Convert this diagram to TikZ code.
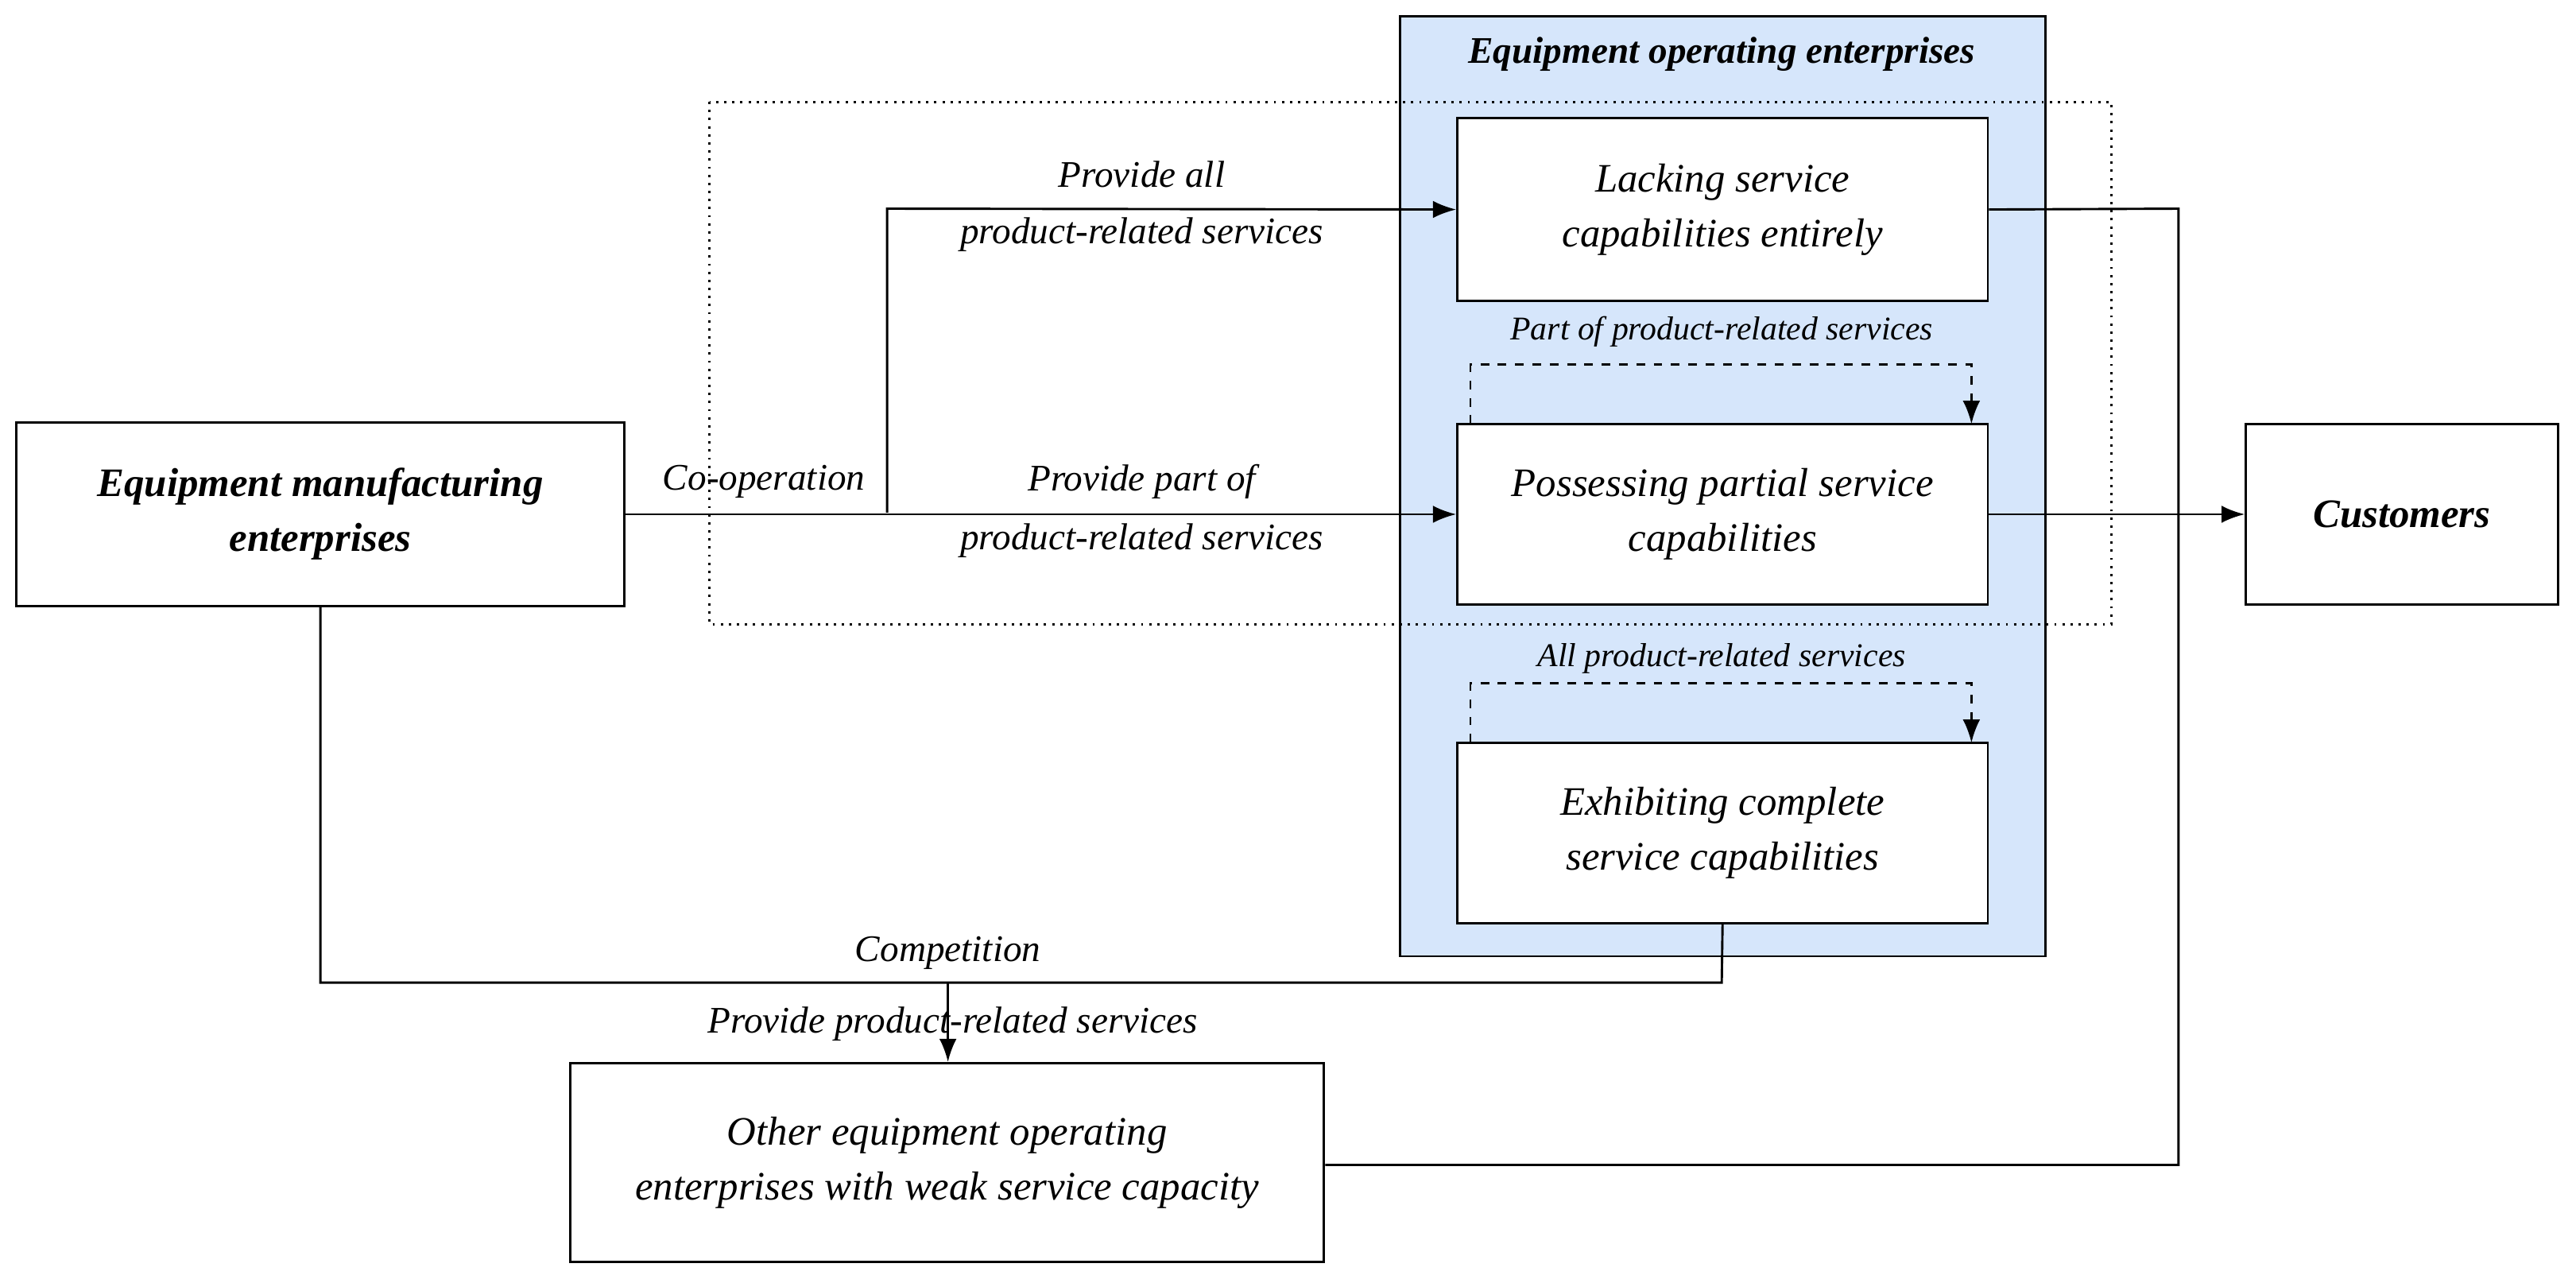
\documentclass[tikz,border=0pt]{standalone}
\usepackage{fontspec}
\setmainfont{Liberation Serif}
\usetikzlibrary{arrows.meta}
\definecolor{bl}{HTML}{D6E6FB}
\begin{document}
\begin{tikzpicture}[x=0.02cm,y=-0.02cm,
 box/.style={draw,thick,fill=white,minimum width=#1,align=center,font=\fontsize{14}{19}\selectfont\itshape,inner sep=0pt},
 lab/.style={font=\fontsize{13}{16}\selectfont\itshape},
 slab/.style={font=\fontsize{11.5}{14}\selectfont\itshape},
 arr/.style={thick,-{Latex[length=8pt,width=6pt]}},
 darr/.style={thick,dashed,-{Latex[length=8pt,width=6pt]}}]
\useasboundingbox (0,0) rectangle (1568,778);
\fill[bl] (852,10) rectangle (1245,582);
\draw[thick] (852,10) rectangle (1245,582);
\node[font=\fontsize{13}{16}\selectfont\bfseries\itshape] (t) at (1048,33) {Equipment operating enterprises};
\draw[thick,dotted] (432,62) rectangle (1285,380);
\node[box=6.46cm,minimum height=2.22cm] (lack) at (1048.5,127.5) {Lacking service\\capabilities entirely};
\node[box=6.46cm,minimum height=2.2cm] (poss) at (1048.5,313) {Possessing partial service\\capabilities};
\node[box=6.46cm,minimum height=2.2cm] (exh) at (1048.5,507) {Exhibiting complete\\service capabilities};
\node[box=7.4cm,minimum height=2.24cm,font=\fontsize{14}{19}\selectfont\bfseries\itshape] (em) at (195,313) {Equipment manufacturing\\enterprises};
\node[box=3.8cm,minimum height=2.2cm,font=\fontsize{14}{19}\selectfont\bfseries\itshape] (cu) at (1462,313) {Customers};
\node[box=9.18cm,minimum height=2.42cm] (oth) at (576.5,707.5) {Other equipment operating\\enterprises with weak service capacity};
\coordinate (b1) at (540,312);
\coordinate (b2) at (540,127);
\draw[arr] (em.east) -- (poss.west);
\draw[arr] (b1) -- (b2) -- (lack.west);
\node[lab] (l1) at (465,293) {Co-operation};
\node[lab] (l2) at (695,106) {Provide all};
\node[lab] (l3) at (695,143) {product-related services};
\node[lab] (l4) at (695,293) {Provide part of};
\node[lab] (l5) at (695,329) {product-related services};
\draw[darr] (895,258) -- (895,222) -- (1200,222) -- (1200,258);
\node[slab] (l6) at (1048,202) {Part of product-related services};
\draw[darr] (895,452) -- (895,416) -- (1200,416) -- (1200,452);
\node[slab] (l7) at (1048,401) {All product-related services};
\draw[arr] (poss.east) -- (cu.west);
\coordinate (r1) at (1326,127);
\coordinate (r2) at (1326,709);
\draw[thick] (lack.east) -- (r1) -- (r2) -- (oth.east |- r2);
\coordinate (c1) at (195,598);
\coordinate (c2) at (1048,598);
\coordinate (c3) at (577,598);
\draw[thick] (em.south) -- (c1) -- (c2) -- (exh.south);
\draw[arr] (c3) -- (oth.north -| c3);
\node[lab] (l8) at (577,580) {Competition};
\node[lab] (l9) at (580,623) {Provide product-related services};
\end{tikzpicture}
\end{document}
